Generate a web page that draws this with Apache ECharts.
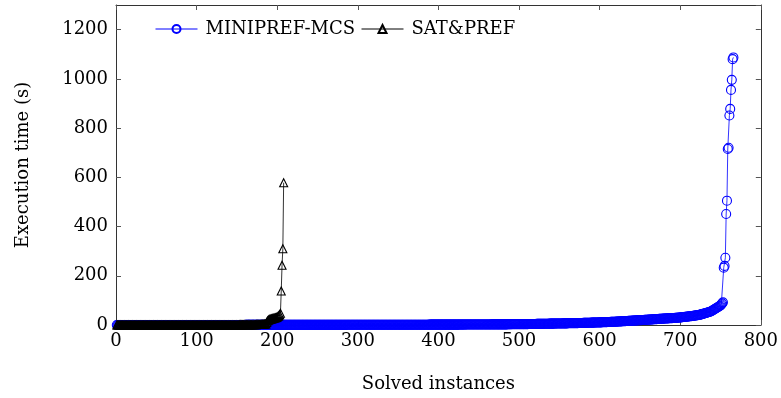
<!DOCTYPE html>
<html>
<head>
<meta charset="utf-8">
<script src="https://cdn.jsdelivr.net/npm/echarts@6/dist/echarts.min.js"></script>
<style>html,body{margin:0;padding:0;background:#fff}#c{width:781px;height:398px}</style>
</head>
<body>
<div id="c"></div>
<script>
// MINIPREF-MCS sorted execution times (s), instance index = position + 1
const miniprefValues = [
0.0,0.0,0.0,0.0,0.0,0.0,0.0,0.0,0.0,0.0,0.0,0.0,0.0,0.1,0.1,0.1,0.1,0.1,0.1,0.1,0.1,0.1,0.1,0.1,0.1,
0.1,0.1,0.1,0.1,0.1,0.1,0.1,0.1,0.1,0.1,0.1,0.1,0.1,0.1,0.1,0.1,0.1,0.1,0.1,0.1,0.1,0.1,0.1,0.1,0.1,
0.1,0.1,0.1,0.1,0.1,0.1,0.1,0.1,0.1,0.1,0.1,0.1,0.2,0.2,0.2,0.2,0.2,0.2,0.2,0.2,0.2,0.2,0.2,0.2,0.2,
0.2,0.2,0.2,0.2,0.2,0.2,0.2,0.2,0.2,0.2,0.2,0.2,0.2,0.2,0.2,0.2,0.2,0.2,0.2,0.2,0.2,0.2,0.2,0.2,0.2,
0.2,0.2,0.2,0.2,0.2,0.2,0.2,0.2,0.2,0.2,0.3,0.3,0.3,0.3,0.3,0.3,0.3,0.3,0.3,0.3,0.3,0.3,0.3,0.3,0.3,
0.3,0.3,0.3,0.3,0.3,0.3,0.3,0.3,0.3,0.3,0.3,0.3,0.3,0.3,0.3,0.3,0.3,0.3,0.3,0.3,0.3,0.3,0.3,0.3,0.3,
0.3,0.3,0.3,0.3,0.3,0.3,0.3,0.3,0.3,0.3,0.4,0.4,0.4,0.4,0.4,0.4,0.4,0.4,0.4,0.4,0.4,0.4,0.4,0.4,0.4,
0.4,0.4,0.4,0.4,0.4,0.4,0.4,0.4,0.4,0.4,0.4,0.4,0.4,0.4,0.4,0.4,0.4,0.4,0.4,0.4,0.4,0.4,0.4,0.4,0.4,
0.4,0.4,0.4,0.4,0.4,0.5,0.5,0.5,0.5,0.5,0.5,0.5,0.5,0.5,0.5,0.5,0.5,0.5,0.5,0.5,0.5,0.5,0.5,0.5,0.5,
0.5,0.5,0.5,0.5,0.5,0.5,0.5,0.5,0.5,0.5,0.6,0.6,0.6,0.6,0.6,0.6,0.6,0.6,0.6,0.6,0.6,0.6,0.6,0.6,0.6,
0.6,0.6,0.6,0.6,0.6,0.6,0.6,0.6,0.6,0.6,0.7,0.7,0.7,0.7,0.7,0.7,0.7,0.7,0.7,0.7,0.7,0.7,0.7,0.7,0.7,
0.7,0.7,0.7,0.7,0.7,0.7,0.7,0.7,0.7,0.7,0.8,0.8,0.8,0.8,0.8,0.8,0.8,0.8,0.8,0.8,0.8,0.8,0.8,0.8,0.8,
0.8,0.8,0.8,0.8,0.8,0.9,0.9,0.9,0.9,0.9,0.9,0.9,0.9,0.9,0.9,0.9,0.9,0.9,0.9,0.9,0.9,0.9,0.9,0.9,0.9,
1.0,1.0,1.0,1.0,1.0,1.0,1.0,1.0,1.0,1.0,1.0,1.0,1.0,1.0,1.0,1.0,1.0,1.0,1.0,1.0,1.0,1.0,1.0,1.0,1.0,
1.1,1.1,1.1,1.1,1.1,1.1,1.1,1.1,1.1,1.1,1.1,1.1,1.1,1.2,1.2,1.2,1.2,1.2,1.2,1.2,1.2,1.2,1.2,1.2,1.2,
1.3,1.3,1.3,1.3,1.3,1.3,1.3,1.3,1.3,1.3,1.3,1.3,1.3,1.4,1.4,1.4,1.4,1.4,1.4,1.4,1.4,1.4,1.4,1.4,1.4,
1.5,1.5,1.5,1.5,1.5,1.5,1.5,1.5,1.6,1.6,1.6,1.6,1.6,1.6,1.6,1.6,1.6,1.7,1.7,1.7,1.7,1.7,1.7,1.7,1.7,
1.8,1.8,1.8,1.8,1.8,1.8,1.8,1.8,1.9,1.9,1.9,1.9,1.9,1.9,1.9,1.9,1.9,2.0,2.0,2.0,2.0,2.0,2.0,2.0,2.0,
2.1,2.1,2.1,2.1,2.1,2.2,2.2,2.2,2.2,2.2,2.3,2.3,2.3,2.3,2.3,2.4,2.4,2.4,2.4,2.4,2.5,2.5,2.5,2.5,2.5,
2.6,2.6,2.6,2.6,2.6,2.7,2.7,2.7,2.7,2.7,2.8,2.8,2.8,2.8,2.8,2.9,2.9,2.9,2.9,2.9,3.0,3.0,3.0,3.0,3.0,
3.1,3.2,3.2,3.3,3.3,3.4,3.5,3.5,3.6,3.6,3.7,3.8,3.8,3.9,3.9,4.0,4.1,4.1,4.2,4.2,4.3,4.4,4.4,4.5,4.5,
4.6,4.7,4.7,4.8,4.9,4.9,5.0,5.1,5.1,5.2,5.3,5.3,5.4,5.5,5.5,5.6,5.7,5.7,5.8,5.8,5.9,5.9,6.0,6.0,6.0,
6.1,6.2,6.3,6.3,6.4,6.5,6.6,6.6,6.7,6.8,6.9,6.9,7.0,7.1,7.2,7.2,7.3,7.4,7.5,7.5,7.6,7.7,7.8,7.9,8.0,
8.1,8.2,8.3,8.4,8.5,8.6,8.7,8.8,8.9,9.0,9.1,9.2,9.3,9.4,9.5,9.6,9.7,9.8,9.9,10.0,10.1,10.2,10.3,10.4,10.5,
10.6,10.8,10.9,11.1,11.2,11.4,11.5,11.7,11.8,12.0,12.1,12.3,12.4,12.6,12.7,12.9,13.0,13.2,13.3,13.5,13.6,13.8,14.0,14.2,14.5,
14.6,14.8,15.0,15.2,15.4,15.6,15.8,16.0,16.2,16.4,16.6,16.8,17.0,17.2,17.4,17.6,17.8,18.0,18.2,18.4,18.6,18.8,19.0,19.2,19.5,
19.7,19.9,20.1,20.3,20.5,20.7,20.9,21.2,21.4,21.6,21.8,22.0,22.2,22.4,22.6,22.9,23.1,23.3,23.5,23.8,24.0,24.2,24.5,24.7,25.0,
25.2,25.4,25.6,25.8,26.0,26.2,26.4,26.6,26.8,27.0,27.2,27.4,27.7,27.9,28.1,28.3,28.5,28.7,29.0,29.2,29.4,29.7,29.9,30.2,30.5,
31.0,31.4,31.8,32.2,32.6,33.0,33.4,33.8,34.2,34.6,35.0,35.4,35.8,36.2,36.6,37.0,37.5,38.0,38.5,39.0,39.5,40.0,40.6,41.3,42.0,
43,44,45,46,47,48,49,50,51,52,53,54,55,57,59,61,63,65,67,69,71,73,75,77,80,
84,88,92,
233,240,273,451,505,715,720,851,878,955,996,1080,1087
];
// SAT&PREF sorted execution times (s)
const satprefValues = [
0.0,0.0,0.0,0.0,0.0,0.0,0.0,0.0,0.0,0.0,0.0,0.0,0.0,0.0,0.0,0.0,0.0,0.0,0.0,0.0,0.0,0.0,0.0,0.0,0.0,
0.0,0.0,0.0,0.0,0.0,0.0,0.0,0.0,0.0,0.0,0.1,0.1,0.1,0.1,0.1,0.1,0.1,0.1,0.1,0.1,0.1,0.1,0.1,0.1,0.1,
0.1,0.1,0.1,0.1,0.1,0.1,0.1,0.1,0.1,0.1,0.1,0.1,0.1,0.1,0.1,0.1,0.1,0.1,0.1,0.1,0.1,0.1,0.1,0.1,0.1,
0.1,0.1,0.1,0.1,0.1,0.1,0.1,0.1,0.1,0.1,0.2,0.2,0.2,0.2,0.2,0.2,0.2,0.2,0.2,0.2,0.2,0.2,0.2,0.2,0.2,
0.2,0.2,0.2,0.2,0.2,0.2,0.2,0.2,0.2,0.2,0.3,0.3,0.3,0.3,0.3,0.3,0.3,0.3,0.3,0.3,0.3,0.3,0.3,0.3,0.3,
0.3,0.3,0.3,0.3,0.3,0.3,0.3,0.3,0.3,0.3,0.4,0.4,0.4,0.4,0.4,0.4,0.4,0.4,0.4,0.4,0.5,0.5,0.5,0.5,0.5,
0.5,0.5,0.6,0.6,0.6,0.7,0.7,0.8,0.8,0.9,0.9,1.0,1.0,1.1,1.1,1.2,1.2,1.3,1.3,1.4,1.5,1.5,1.6,1.7,1.8,
1.9,2.0,2.1,2.3,2.5,2.7,3.0,3.3,3.7,4.2,
4,10,16,20,22,23,24,25,26,27,28,29,30,31,33,35,38,42,
48,138,243,310,578
];
const seriesNames = ['MINIPREF-MCS', 'SAT&PREF'];
const xMin = 0, xMax = 800, xStep = 100;
const yMin = 0, yMax = 1300, yStep = 200;

const font = 'DejaVu Serif';
const chart = echarts.init(document.getElementById('c'), null, {renderer: 'canvas'});
const tickStyle = {show: true, inside: true, length: 5, lineStyle: {color: '#555', width: 1}};
const lineAx = {show: true, onZero: false, lineStyle: {color: '#333', width: 1}};
chart.setOption({
  animation: false,
  backgroundColor: '#fff',
  grid: {left: 116, right: 20, top: 5, bottom: 71, containLabel: false},
  legend: {
    left: 150, top: 15, itemWidth: 42, itemHeight: 10, itemGap: 6,
    lineStyle: {width: 1},
    textStyle: {fontFamily: font, fontSize: 18, color: '#000', padding: [0, 0, 0, 3]},
    data: seriesNames
  },
  xAxis: [{
    type: 'value', min: xMin, max: xMax, interval: xStep,
    name: 'Solved instances', nameLocation: 'middle', nameGap: 50,
    nameTextStyle: {fontFamily: font, fontSize: 18, color: '#000'},
    axisLine: lineAx, axisTick: tickStyle, splitLine: {show: false},
    axisLabel: {fontFamily: font, fontSize: 18, color: '#000', margin: 7}
  }, {
    type: 'value', min: xMin, max: xMax, interval: xStep, position: 'top',
    axisLine: lineAx, axisTick: tickStyle, splitLine: {show: false}, axisLabel: {show: false}
  }],
  yAxis: [{
    type: 'value', min: yMin, max: yMax, interval: yStep,
    name: 'Execution time (s)', nameLocation: 'middle', nameGap: 84,
    nameTextStyle: {fontFamily: font, fontSize: 18, color: '#000'},
    axisLine: lineAx, axisTick: tickStyle, splitLine: {show: false},
    axisLabel: {fontFamily: font, fontSize: 18, color: '#000', margin: 8,
      showMaxLabel: false, formatter: v => String(v)}
  }, {
    type: 'value', min: yMin, max: yMax, interval: yStep, position: 'right',
    axisLine: lineAx, axisTick: tickStyle, splitLine: {show: false}, axisLabel: {show: false}
  }],
  series: [{
    name: seriesNames[0], type: 'line', clip: false,
    symbol: 'circle', symbolSize: 9, showAllSymbol: true,
    itemStyle: {color: 'rgba(255,255,255,0)', borderColor: '#0000ff', borderWidth: 1.1},
    lineStyle: {color: '#0000ff', width: 0.8},
    data: miniprefValues.map((v, i) => [i + 1, v])
  }, {
    name: seriesNames[1], type: 'line', clip: false,
    symbol: 'triangle', symbolSize: 8, showAllSymbol: true,
    itemStyle: {color: 'rgba(255,255,255,0)', borderColor: '#000', borderWidth: 1.1},
    lineStyle: {color: '#000', width: 0.8},
    data: satprefValues.map((v, i) => [i + 1, v])
  }]
});
</script>
</body>
</html>
